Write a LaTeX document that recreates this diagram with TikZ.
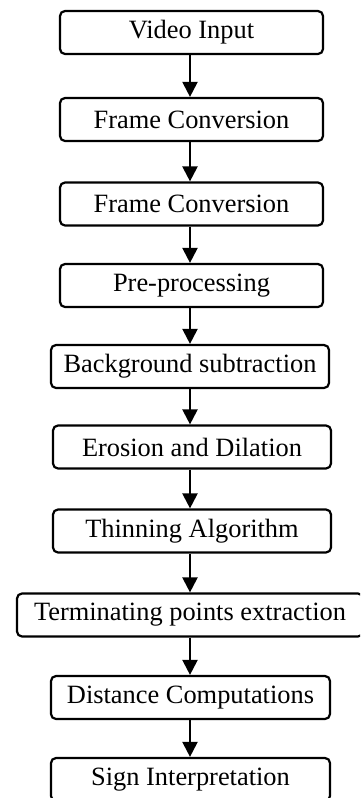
\documentclass[tikz,border=0pt]{standalone}
\usepackage{fontspec}
\setmainfont{Liberation Serif}
\usetikzlibrary{arrows.meta}

\tikzset{
  stepbox/.style={draw, line width=2.2pt, rounded corners=5pt, inner sep=0pt,
    minimum height=43pt, font=\fontsize{26.4}{30}\selectfont},
  flow/.style={line width=2.2pt, -{Triangle[width=15pt,length=15pt]}}
}

\begin{document}
\begin{tikzpicture}[x=1pt, y=-1pt]
      \useasboundingbox (0,0) rectangle (360,798);
      \clip (0,0) rectangle (360,798);

      \node[stepbox, minimum width=263pt] (B1) at (191.5,32.5) {Video Input};
      \node[stepbox, minimum width=263pt] (B2) at (191.5,119.5) {Frame Conversion};
      \node[stepbox, minimum width=263pt] (B3) at (191.5,204) {Frame Conversion};
      \node[stepbox, minimum width=263pt] (B4) at (191.5,285.5) {Pre-processing};
      \node[stepbox, minimum width=278pt] (B5) at (190,366.5) {Background subtraction};
      \node[stepbox, minimum width=278pt] (B6) at (192,447) {Erosion and Dilation};
      \node[stepbox, minimum width=278pt] (B7) at (192,531) {Thinning Algorithm};
      \node[stepbox, minimum width=346pt] (B8) at (190,615) {Terminating points extraction};
      \node[stepbox, minimum width=279pt] (B9) at (190.5,697.5) {Distance Computations};
      \node[stepbox, minimum width=279pt] (B10) at (190.5,779.5) {Sign Interpretation};

      \draw[flow] (B1.south -| 190,0) -- (B2.north -| 190,0);
      \draw[flow] (B2.south -| 190,0) -- (B3.north -| 190,0);
      \draw[flow] (B3.south -| 190,0) -- (B4.north -| 190,0);
      \draw[flow] (B4.south -| 190,0) -- (B5.north -| 190,0);
      \draw[flow] (B5.south -| 190,0) -- (B6.north -| 190,0);
      \draw[flow] (B6.south -| 190,0) -- (B7.north -| 190,0);
      \draw[flow] (B7.south -| 190,0) -- (B8.north -| 190,0);
      \draw[flow] (B8.south -| 190,0) -- (B9.north -| 190,0);
      \draw[flow] (B9.south -| 190,0) -- (B10.north -| 190,0);
\end{tikzpicture}
\end{document}
